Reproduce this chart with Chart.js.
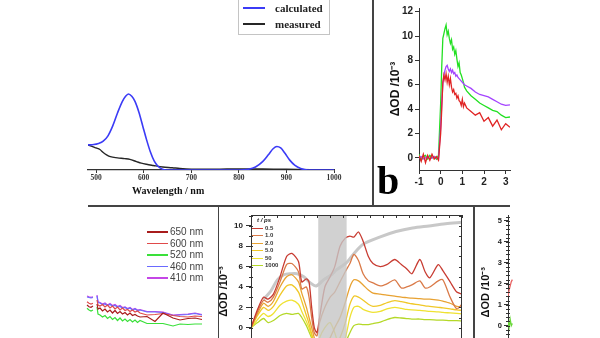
<!DOCTYPE html>
<html>
<head>
<meta charset="utf-8">
<title>Absorption and transient spectra</title>
<script src="https://cdn.jsdelivr.net/npm/chart.js@4/dist/chart.umd.min.js"></script>
<style>
  html, body { margin: 0; padding: 0; background: #fff; }
  body { position: relative; width: 600px; height: 338px; overflow: hidden; font-family: "Liberation Sans", Arial, sans-serif; }
  canvas { position: absolute; }
  .rule { position: absolute; background: #444; }
  .panel-tag { position: absolute; left: 377px; top: 161px; font: bold 40px/40px "Liberation Serif", serif; color: #000; }
  .axis-name { position: absolute; font: bold 10px "Liberation Serif", serif; color: #111; white-space: nowrap; }

  /* legends */
  .leg-spec { position: absolute; left: 238px; top: -1px; width: 90px; height: 34px; border: 1px solid #c4c4c4; }
  .leg-spec div { position: relative; height: 16px; }
  .leg-spec i { position: absolute; left: 4px; top: 7px; width: 22px; height: 2px; }
  .leg-spec span { position: absolute; left: 36px; top: 1px; font: bold 11px/14px "Liberation Serif", serif; color: #222; }

  .leg-kin { position: absolute; left: 147px; top: 226px; }
  .leg-kin div { position: relative; height: 11.5px; }
  .leg-kin i { position: absolute; left: 0; top: 5px; width: 21px; height: 1.5px; }
  .leg-kin span { position: absolute; left: 23px; top: -1px; font: 10px/13px "Liberation Sans", Arial, sans-serif; color: #444; white-space: nowrap; }

  .leg-delay { position: absolute; left: 252px; top: 217px; }
  .leg-delay b { display: block; margin-left: 5px; height: 7.5px; font: italic bold 6px/7px "Liberation Sans", Arial, sans-serif; color: #222; }
  .leg-delay div { position: relative; height: 7.5px; }
  .leg-delay i { position: absolute; left: 0; top: 3px; width: 11px; height: 1.3px; }
  .leg-delay span { position: absolute; left: 13px; top: 0; font: bold 6px/7px "Liberation Sans", Arial, sans-serif; color: #333; white-space: nowrap; }
</style>
</head>
<body>

<canvas id="specChart" width="286" height="205" style="left:68px; top:0px"></canvas>
<canvas id="riseChart" width="228" height="200" style="left:372px; top:0px"></canvas>
<canvas id="kinChart" width="130" height="135" style="left:80px; top:205px"></canvas>
<canvas id="delayChart" width="254" height="171" style="left:216px; top:205px"></canvas>
<canvas id="sideChart" width="127" height="171" style="left:473px; top:205px"></canvas>

<div class="rule" style="left:88px; top:205px; width:422px; height:1.5px"></div>
<div class="rule" style="left:372px; top:0px; width:1.5px; height:205px"></div>
<div class="rule" style="left:217.5px; top:205px; width:1.5px; height:133px"></div>
<div class="rule" style="left:473px; top:205px; width:1.5px; height:133px"></div>

<div class="axis-name" style="left:132px; top:185px">Wavelength / nm</div>
<div class="panel-tag">b</div>

<div class="leg-spec" id="specLegend"></div>
<div class="leg-kin" id="kinLegend"></div>
<div class="leg-delay" id="delayLegend"><b>t / ps</b></div>

<script>
'use strict';

// ---------- absorption: calculated vs measured ----------
const calcWl  = [483, 495, 505, 515, 525, 535, 545, 555, 562, 568, 575, 582, 590, 598, 606, 614, 622, 630, 638, 648, 700, 800, 820, 835, 850, 862, 872, 880, 888, 897, 907, 918, 930, 945, 1000];
const calcAbs = [0.33, 0.335, 0.35, 0.38, 0.45, 0.58, 0.75, 0.9, 0.97, 1.0, 0.97, 0.9, 0.76, 0.58, 0.4, 0.24, 0.12, 0.05, 0.015, 0, 0, 0, 0.01, 0.04, 0.11, 0.2, 0.28, 0.31, 0.29, 0.22, 0.13, 0.06, 0.02, 0, 0];
const measWl  = [483, 490, 500, 508, 515, 522, 530, 545, 560, 571, 585, 595, 606, 620, 640, 660, 676, 700, 750, 800, 850, 900, 950, 1000];
const measAbs = [0.33, 0.315, 0.29, 0.27, 0.23, 0.2, 0.175, 0.16, 0.15, 0.14, 0.11, 0.09, 0.075, 0.06, 0.04, 0.03, 0.02, 0.012, 0.01, 0.015, 0.015, 0.01, 0.005, 0];
const specLabels = ['calculated', 'measured'];
const specColors = ['#3b3bf6', '#262626'];
const specTicks = [500, 600, 700, 800, 900, 1000];

// ---------- early-time kinetics (panel b) ----------
const riseTime = [-1.0, -0.9, -0.8, -0.7, -0.6, -0.5, -0.4, -0.3, -0.2, -0.1, 0.0, 0.05, 0.1, 0.15, 0.2, 0.25, 0.3, 0.35, 0.4, 0.45, 0.5, 0.55, 0.6, 0.65, 0.7, 0.75, 0.8, 0.85, 0.9, 0.95, 1.0, 1.05, 1.1, 1.2, 1.4, 1.6, 1.8, 2.0, 2.2, 2.4, 2.6, 2.8, 3.0, 3.2];
const rise520  = [0.3, -0.2, 0.1, 0.2, -0.1, 0.2, 0.0, 0.1, -0.1, 0.2, 4.5, 7.5, 9.8, 10.2, 10.6, 10.9, 10.1, 10.4, 9.8, 9.4, 9.7, 8.9, 9.1, 8.5, 8.8, 8.1, 7.5, 7.8, 7.0, 6.8, 6.5, 6.2, 5.8, 5.5, 5.1, 4.8, 4.5, 4.3, 4.1, 3.9, 3.8, 3.5, 3.3, 3.35];
const rise410  = [0.0, 0.1, -0.1, 0.0, 0.1, -0.1, 0.0, 0.1, 0.0, -0.1, 2.5, 4.5, 6.0, 6.8, 7.2, 7.5, 7.6, 7.3, 7.1, 7.3, 7.0, 7.2, 6.9, 7.0, 6.7, 6.8, 6.6, 6.5, 6.4, 6.3, 6.2, 6.1, 6.0, 5.9, 5.7, 5.4, 5.2, 5.1, 5.0, 4.8, 4.6, 4.4, 4.3, 4.35];
const rise600  = [0.2, -0.3, 0.3, -0.4, 0.2, -0.2, 0.3, -0.1, 0.1, -0.2, 2.0, 4.0, 6.2, 6.8, 6.4, 6.9, 6.2, 6.7, 6.0, 6.5, 5.8, 5.4, 5.6, 5.2, 5.3, 4.9, 5.1, 4.7, 4.6, 4.3, 4.8, 4.2, 4.5, 4.1, 3.8, 3.5, 3.7, 3.0, 3.3, 2.6, 3.1, 2.3, 2.8, 2.5];
const riseTicksX = [-1, 0, 1, 2, 3];
const riseTicksY = [0, 2, 4, 6, 8, 10, 12];

// ---------- probe-wavelength kinetics (bottom left) ----------
const kinTime = [-3, -1, 1, 3, 5, 7, 8, 10, 12.5, 15, 17.5, 20, 22.5, 25, 27.5, 30, 32.5, 35, 37.5, 40, 42.5, 45, 47.5, 50, 57, 65, 73, 83, 90, 98, 105, 112];
const kin650 = [2.5, 2.33, 2.27, 2.4, null, 2.6, 2.1, 2.2, 1.9, 2.1, 1.8, 2.0, 1.7, 1.95, 1.65, 1.85, 1.6, 1.75, 1.5, 1.7, 1.45, 1.55, 1.4, 1.3, 1.35, 0.85, 1.7, 1.2, 1.0, 1.15, 1.2, 1.05];
const kin600 = [2.83, 2.67, 2.6, 2.67, null, 3.0, 2.5, 2.4, 2.55, 2.3, 2.5, 2.2, 2.4, 2.1, 2.3, 2.0, 2.2, 1.95, 2.05, 1.85, 2.0, 1.8, 1.9, 1.7, 1.5, 1.55, 1.65, 1.45, 1.35, 1.3, 1.4, 1.35];
const kin520 = [2.17, 2.0, 1.9, 2.0, null, 2.3, 1.6, 1.5, 1.3, 1.45, 1.15, 1.35, 1.05, 1.25, 0.95, 1.2, 0.9, 1.1, 0.85, 1.05, 0.8, 1.0, 0.75, 0.95, 0.65, 0.65, 0.65, 0.4, 0.6, 0.55, 0.6, 0.6];
const kin460 = [3.3, 3.25, 3.2, 3.25, null, 3.4, 2.75, 2.7, 2.55, 2.6, 2.45, 2.55, 2.4, 2.45, 2.3, 2.35, 2.2, 2.25, 2.1, 2.2, 2.0, 2.1, 1.95, 2.0, 1.8, 1.8, 1.75, 1.45, 1.5, 1.55, 1.65, 1.5];
const kin410 = [3.4, 3.33, 3.27, 3.33, null, 3.5, 2.83, 2.75, 2.6, 2.7, 2.5, 2.65, 2.45, 2.55, 2.35, 2.45, 2.25, 2.3, 2.15, 2.25, 2.05, 2.15, 2.0, 2.05, 1.85, 1.85, 1.8, 1.5, 1.55, 1.6, 1.7, 1.55];
const kinLabels = ['650 nm', '600 nm', '520 nm', '460 nm', '410 nm'];
const kinColors = ['#a81c1c', '#e04a4a', '#3ae03a', '#6a6aff', '#c446e6'];

// ---------- transient spectra at several delays (bottom middle) ----------
const delayWl = [380, 390, 399, 406, 414, 424, 434, 442, 452, 457, 464, 468, 472, 476, 480, 484, 492, 500, 507, 515, 523, 530, 536, 543, 550, 558, 565, 576, 586, 598, 608, 616, 624, 636, 644, 651, 664, 671, 682, 692, 700];
const delay0p5  = [0.0, 1.8, 3.0, 2.8, 3.3, 5.0, 7.0, 7.3, 6.5, 4.5, 4.8, 4.5, 2.0, 0.0, -0.5, 1.0, 4.0, 5.0, 6.0, 8.0, 8.8, 9.0, 8.9, 9.4, 8.5, 7.0, 6.3, 6.0, 6.2, 6.7, 6.2, 5.8, 5.3, 6.7, 5.5, 4.9, 6.2, 5.6, 4.5, 3.5, 3.3];
const delay1    = [0.0, 1.6, 2.7, 2.5, 3.0, 4.5, 6.2, 6.3, 5.5, 3.8, 4.0, 3.0, 1.0, -0.5, -0.8, 0.5, 2.0, 3.0, 3.5, 4.5, 5.5, 6.3, 7.2, 6.6, 5.3, 4.6, 4.4, 4.1, 4.3, 4.7, 3.9, 4.0, 4.2, 4.6, 3.9, 4.0, 4.6, 4.7, 3.0, 1.85, 2.3];
const delay2    = [0.0, 1.4, 2.4, 2.1, 2.6, 4.0, 5.0, 5.2, 4.5, 3.4, 2.0, 1.0, 0.0, -1.0, -2.0, -2.5, -2.0, -1.0, 0.0, 1.0, 2.5, 4.0, 4.7, 4.6, 4.2, 3.7, 3.4, 3.3, 3.2, 3.1, 3.0, 2.95, 2.9, 2.85, 2.8, 2.8, 2.7, 2.6, 2.4, 2.1, 2.0];
const delay5    = [0.0, 1.2, 2.0, 1.7, 2.1, 3.2, 4.1, 4.2, 3.5, 2.6, 1.2, 0.4, -0.6, -1.5, -2.5, -3.0, -3.0, -2.5, -2.0, -1.0, 0.5, 2.3, 3.1, 3.0, 2.7, 2.3, 2.1, 2.2, 2.45, 2.65, 2.55, 2.45, 2.35, 2.25, 2.15, 2.1, 2.0, 1.95, 1.85, 1.75, 1.7];
const delay50   = [0.0, 0.8, 1.4, 1.1, 1.4, 2.2, 2.6, 2.7, 2.3, 1.6, 0.6, 0.0, -0.8, -1.5, -2.0, -1.0, 0.0, 0.5, -0.5, -2.0, -1.0, 1.0, 2.0, 2.1, 1.8, 1.6, 1.5, 1.6, 1.85, 2.0, 1.9, 1.8, 1.75, 1.7, 1.65, 1.6, 1.55, 1.5, 1.45, 1.4, 1.35];
const delay1000 = [0.0, 0.5, 0.9, 0.5, 0.7, 1.2, 1.4, 1.3, 1.4, 1.0, 0.2, -0.4, -1.0, -1.5, -2.0, -2.5, -3.0, -3.0, -3.0, -2.5, -1.5, -0.5, 0.2, 0.35, 0.3, 0.3, 0.4, 0.55, 0.8, 1.0, 0.95, 0.9, 0.85, 0.85, 0.8, 0.8, 0.75, 0.75, 0.7, 0.7, 0.65];
const delayLabels = ['0.5', '1.0', '2.0', '5.0', '50', '1000'];
const delayColors = ['#c83c32', '#da7a48', '#e8a232', '#f0c828', '#efe232', '#b4d828'];
const groundWl  = [399, 410, 420, 430, 440, 450, 460, 470, 479, 490, 500, 510, 525, 535, 550, 575, 600, 625, 650, 675, 700];
const groundAbs = [2.8, 3.6, 4.7, 5.2, 5.3, 5.3, 5.0, 4.4, 4.1, 4.7, 5.1, 5.7, 6.4, 7.2, 8.2, 8.9, 9.45, 9.8, 10.0, 10.2, 10.35];
const pumpBand = [482, 525];
const delayTicksY = [0, 2, 4, 6, 8, 10];

// ---------- right-hand kinetics (partly visible) ----------
const sideTime = [-1.0, -0.95, -0.9, -0.85, -0.8];
const side600  = [1.4, 1.7, 1.9, 2.1, 2.2];
const side520  = [0.2, -0.1, 0.3, 0.0, 0.1];
const sideTicksY = [0, 1, 2, 3, 4, 5];

const OD_TITLE = '\u0394OD /10\u207B\u00B3';

Chart.defaults.font.family = '"Liberation Sans", Arial, sans-serif';
Chart.defaults.animation = false;
Chart.defaults.responsive = false;
Chart.defaults.devicePixelRatio = 1;
Chart.defaults.plugins.legend.display = false;
Chart.defaults.plugins.tooltip.enabled = false;
Chart.defaults.elements.point.radius = 0;

function pairs(xs, ys) {
    return xs.map((x, i) => ({ x, y: ys[i] }));
}

function line(label, xs, ys, color, width, extra) {
    return Object.assign({
        label,
        data: pairs(xs, ys),
        borderColor: color,
        backgroundColor: color,
        borderWidth: width,
        fill: false,
        tension: 0,
        spanGaps: false
    }, extra || {});
}

function fixedTicks(values) {
    return scale => { scale.ticks = values.map(v => ({ value: v })); };
}

function plainNumber(value) {
    return String(value);
}

function buildLegend(el, labels, colors) {
    labels.forEach((lab, i) => {
        const row = document.createElement('div');
        row.innerHTML = `<i style="background:${colors[i]}"></i><span>${lab}</span>`;
        el.appendChild(row);
    });
}

// box frame, minor ticks and the shaded pump band
const panelDecor = {
    id: 'panelDecor',
    afterDatasetsDraw(chart, args, opts) {
        const { ctx, chartArea: a, scales: { x, y } } = chart;
        ctx.save();
        if (opts.band) {
            const x0 = x.getPixelForValue(opts.band[0]);
            const x1 = x.getPixelForValue(opts.band[1]);
            ctx.fillStyle = 'rgba(198,198,198,0.8)';
            ctx.fillRect(x0, a.top, x1 - x0, a.bottom - a.top);
        }
        ctx.strokeStyle = '#333';
        ctx.lineWidth = 1;
        if (opts.box) {
            ctx.strokeRect(a.left + 0.5, a.top + 0.5, a.right - a.left - 1, a.bottom - a.top);
        }
        if (opts.minorY) {
            const n0 = Math.ceil(y.min / opts.minorY);
            const n1 = Math.floor(y.max / opts.minorY);
            ctx.beginPath();
            for (let n = n0; n <= n1; n++) {
                const py = Math.round(y.getPixelForValue(n * opts.minorY)) + 0.5;
                ctx.moveTo(a.left - 2, py);
                ctx.lineTo(a.left + 2, py);
                if (opts.box) {
                    ctx.moveTo(a.right - 3, py);
                    ctx.lineTo(a.right, py);
                }
            }
            ctx.stroke();
        }
        if (opts.minorX) {
            const n0 = Math.ceil(x.min / opts.minorX);
            const n1 = Math.floor(x.max / opts.minorX);
            ctx.beginPath();
            for (let n = n0; n <= n1; n++) {
                const px = Math.round(x.getPixelForValue(n * opts.minorX)) + 0.5;
                ctx.moveTo(px, a.top);
                ctx.lineTo(px, a.top + 3);
            }
            ctx.stroke();
        }
        ctx.restore();
    }
};

const axisInk = '#333';

/**
 * Absorption spectrum, calculated vs measured
 */
function initSpectrum() {
    new Chart(document.getElementById('specChart'), {
        type: 'line',
        data: {
            datasets: [
                line(specLabels[0], calcWl, calcAbs, specColors[0], 1.6, { cubicInterpolationMode: 'monotone' }),
                line(specLabels[1], measWl, measAbs, specColors[1], 1.4, { cubicInterpolationMode: 'monotone' })
            ]
        },
        options: {
            layout: { padding: { left: 20, right: 20, top: 0, bottom: 0 } },
            scales: {
                x: {
                    type: 'linear',
                    min: 483,
                    max: 1000,
                    afterBuildTicks: fixedTicks(specTicks),
                    afterFit: s => { s.height = 35; },
                    grid: { drawOnChartArea: false, tickLength: 3, color: axisInk },
                    border: { color: axisInk, width: 1.2 },
                    ticks: { padding: 1, color: '#333', callback: plainNumber, font: { family: '"Liberation Serif", serif', weight: 'bold', size: 7.5 } }
                },
                y: { display: false, min: 0, max: 2.237 }
            }
        }
    });
    buildLegend(document.getElementById('specLegend'), specLabels, specColors);
}

/**
 * Rise and decay traces, panel b
 */
function initRise() {
    new Chart(document.getElementById('riseChart'), {
        type: 'line',
        data: {
            datasets: [
                line('600 nm', riseTime, rise600, '#e02424', 1.3),
                line('410 nm', riseTime, rise410, '#a444ff', 1.3),
                line('520 nm', riseTime, rise520, '#22e022', 1.3)
            ]
        },
        options: {
            layout: { padding: { left: 0, right: 90, top: 0, bottom: 0 } },
            scales: {
                x: {
                    type: 'linear',
                    min: -1,
                    max: 3.2,
                    afterBuildTicks: fixedTicks(riseTicksX),
                    afterFit: s => { s.height = 30; },
                    grid: { drawOnChartArea: false, tickLength: 4, color: axisInk },
                    border: { color: axisInk },
                    ticks: { padding: 2, color: '#222', callback: plainNumber, font: { weight: 'bold', size: 10 } }
                },
                y: {
                    min: -1,
                    max: 12.3,
                    afterBuildTicks: fixedTicks(riseTicksY),
                    afterFit: s => { s.width = 47; },
                    grid: { drawOnChartArea: false, tickLength: 4, color: axisInk },
                    border: { color: axisInk },
                    ticks: { padding: 2, color: '#222', callback: plainNumber, font: { weight: 'bold', size: 10 } },
                    title: { display: true, text: OD_TITLE, color: '#111', padding: { top: 16, bottom: 0 }, font: { weight: 'bold', size: 12 } }
                }
            }
        }
    });
}

/**
 * Kinetic traces at the probe wavelengths
 */
function initKinetics() {
    const series = [kin650, kin600, kin520, kin460, kin410];
    new Chart(document.getElementById('kinChart'), {
        type: 'line',
        data: {
            datasets: series.map((vals, i) => line(kinLabels[i], kinTime, vals, kinColors[i], 1.2))
        },
        options: {
            layout: { padding: 0 },
            scales: {
                x: { type: 'linear', display: false, min: -10, max: 120 },
                y: { display: false, min: -1, max: 12.5 }
            }
        }
    });
    buildLegend(document.getElementById('kinLegend'), kinLabels, kinColors);
}

/**
 * Transient spectra for each delay with the ground-state trace behind them
 */
function initDelays() {
    const series = [delay0p5, delay1, delay2, delay5, delay50, delay1000];
    const sets = series.map((vals, i) => line(delayLabels[i] + ' ps', delayWl, vals, delayColors[i], 1.3, { tension: 0.25 }));
    sets.push(line('ground state', groundWl, groundAbs, '#c8c8c8', 3, { tension: 0.3 }));

    new Chart(document.getElementById('delayChart'), {
        type: 'line',
        data: { datasets: sets },
        options: {
            layout: { padding: { left: 0, right: 8, top: 10, bottom: 6 } },
            plugins: { panelDecor: { box: true, band: pumpBand, minorY: 1, minorX: 20 } },
            scales: {
                x: { type: 'linear', display: false, min: 380, max: 700 },
                y: {
                    min: -3.98,
                    max: 11.07,
                    afterBuildTicks: fixedTicks(delayTicksY),
                    afterFit: s => { s.width = 35; },
                    grid: { drawOnChartArea: false, tickLength: 5, color: axisInk },
                    border: { color: axisInk },
                    ticks: { padding: 3, color: '#222', callback: plainNumber, font: { weight: 'bold', size: 8 } },
                    title: { display: true, text: OD_TITLE, color: '#111', padding: { top: 1, bottom: 0 }, font: { weight: 'bold', size: 11 } }
                }
            }
        },
        plugins: [panelDecor]
    });
    buildLegend(document.getElementById('delayLegend'), delayLabels, delayColors);
}

/**
 * Right-hand kinetics, only the start is in view
 */
function initSide() {
    new Chart(document.getElementById('sideChart'), {
        type: 'line',
        data: {
            datasets: [
                line('600 nm', sideTime, side600, '#e86060', 1.3),
                line('520 nm', sideTime, side520, '#6ad83a', 1.3)
            ]
        },
        options: {
            layout: { padding: { left: 0, right: 0, top: 10, bottom: 6 } },
            plugins: { panelDecor: { minorY: 0.2 } },
            scales: {
                x: { type: 'linear', display: false, min: -1, max: 3.2 },
                y: {
                    min: -2.095,
                    max: 5.286,
                    afterBuildTicks: fixedTicks(sideTicksY),
                    afterFit: s => { s.width = 35; },
                    grid: { drawOnChartArea: false, tickLength: 4, color: axisInk },
                    border: { color: axisInk },
                    ticks: { padding: 2, color: '#222', callback: plainNumber, font: { weight: 'bold', size: 7.5 } },
                    title: { display: true, text: OD_TITLE, color: '#111', padding: { top: 6, bottom: 0 }, font: { weight: 'bold', size: 11 } }
                }
            }
        },
        plugins: [panelDecor]
    });
}

initSpectrum();
initRise();
initKinetics();
initDelays();
initSide();
</script>
</body>
</html>
